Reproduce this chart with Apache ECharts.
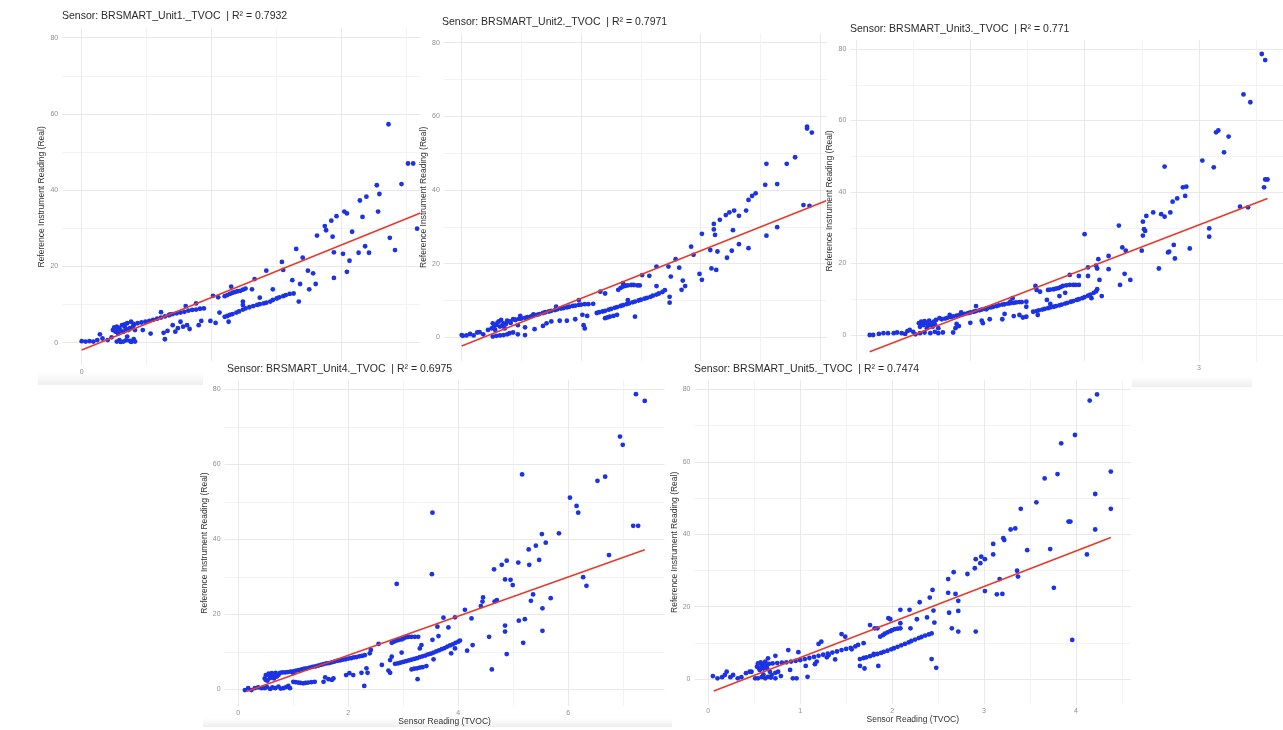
<!DOCTYPE html>
<html><head><meta charset="utf-8">
<script src="https://cdn.jsdelivr.net/npm/echarts@6/dist/echarts.min.js"></script>
<style>html,body{margin:0;padding:0;background:#fff}#c{width:1283px;height:730px}</style>
</head><body><div id="c"></div>
<script>
// ---------------- DATA ----------------
const sensorNames = ['BRSMART_Unit1._TVOC','BRSMART_Unit2._TVOC','BRSMART_Unit3._TVOC','BRSMART_Unit4._TVOC','BRSMART_Unit5._TVOC'];
const r2Values = ['0.7932','0.7971','0.771','0.6975','0.7474'];
const yTickLabels = [0,20,40,60,80];
const xAxisTitle = 'Sensor Reading (TVOC)';
const yAxisTitle = 'Reference Instrument Reading (Real)';

const unit1Points = [
[0.00,0.4],[0.03,0.3],[0.06,0.4],[0.09,0.3],[0.12,0.7],[0.14,2.2],[0.16,1.1],[0.20,0.7],[0.23,1.4],
[0.27,0.3],[0.29,0.7],[0.32,0.3],[0.35,1.6],[0.37,0.5],[0.40,0.9],[0.41,0.3],[0.30,0.2],[0.34,0.6],[0.38,0.2],
[0.24,3.3],[0.26,2.9],[0.27,4.2],[0.28,2.4],[0.29,3.8],[0.31,4.6],[0.32,2.9],[0.33,4.2],[0.35,5.1],[0.36,3.3],[0.37,3.8],[0.38,5.5],[0.40,4.6],[0.41,3.3],[0.25,4.0],[0.30,3.1],[0.34,3.6],[0.39,4.0],[0.28,3.5],[0.33,4.8],
[0.40,4.9],[0.43,5.1],[0.46,5.3],[0.49,5.5],[0.52,5.7],[0.55,6.0],[0.58,6.3],[0.61,6.6],[0.64,6.9],[0.67,7.2],[0.70,7.5],[0.73,7.7],[0.76,7.9],[0.79,8.1],[0.82,8.4],[0.85,8.6],[0.88,8.7],[0.91,8.9],[0.94,9.0],
[0.47,3.3],[0.53,2.4],[0.61,8.0],[0.63,2.6],[0.64,0.9],[0.66,3.1],[0.68,7.4],[0.70,4.6],[0.72,2.9],[0.74,3.8],[0.76,5.5],[0.78,4.2],[0.80,9.6],[0.81,4.6],[0.83,3.6],[0.88,10.3],[0.90,4.6],[0.92,5.7],[0.99,5.7],[1.01,12.3],[1.03,5.2],[1.05,11.9],[1.06,7.9],[1.13,5.5],[1.15,14.7],[1.24,10.8],[1.24,9.9],[1.31,14.0],[1.33,16.7],[1.37,11.8],[1.42,18.9],[1.47,14.0],[1.54,21.2],[1.55,19.1],[1.62,16.4],[1.65,24.6],[1.67,10.8],[1.68,15.4],[1.70,22.3],[1.74,18.9],[1.78,18.2],[1.75,14.0],[1.80,15.4],[1.81,28.1],[1.87,30.6],[1.88,29.5],[1.92,32.0],[1.93,27.8],[1.94,23.7],[1.94,17.0],[1.96,33.2],[2.01,23.3],[2.02,34.4],[2.04,33.9],[2.04,18.6],[2.06,21.5],[2.08,29.1],[2.13,23.6],[2.14,37.3],[2.16,33.0],[2.18,25.3],[2.19,38.3],[2.21,23.6],[2.27,41.3],[2.28,34.4],[2.29,39.0],[2.36,57.3],[2.37,27.5],[2.41,24.3],[2.46,41.6],[2.51,47.0],[2.55,47.0],[2.58,29.9],
[1.10,6.8],[1.12,7.0],[1.14,7.3],[1.16,7.5],[1.19,7.9],[1.21,8.2],[1.24,8.7],[1.26,9.0],[1.29,9.3],[1.32,9.6],[1.35,9.9],[1.37,10.1],[1.40,10.3],[1.42,10.5],[1.45,10.8],[1.47,11.2],[1.50,11.6],[1.52,11.9],[1.55,12.2],[1.57,12.5],[1.60,12.8],[1.63,12.9],
[1.10,12.2],[1.12,12.5],[1.14,12.8],[1.16,13.1],[1.18,13.3],[1.20,13.5],[1.22,13.6],[1.24,13.9],[1.26,14.2]
];
const unit1Fit = [[0,-1.9],[2.62,34.2]];

const unit2Points = [
[0,0.6],[0.01,0.4],[0.04,0.5],[0.07,0.9],[0.10,0.5],[0.13,1.3],[0.15,1.4],[0.18,0.8],[0.22,2.0],
[0.25,2.4],[0.26,3.8],[0.28,2.0],[0.29,3.3],[0.31,4.3],[0.32,2.9],[0.33,4.7],[0.35,3.8],[0.36,2.4],[0.38,4.5],[0.40,4.3],[0.43,4.9],[0.45,4.7],[0.27,3.0],[0.30,4.0],[0.34,3.2],[0.37,3.6],[0.41,3.9],
[0.26,0.2],[0.29,0.4],[0.32,0.5],[0.35,0.6],[0.38,0.8],[0.40,1.1],[0.43,1.3],[0.47,0.8],[0.53,0.6],
[0.45,4.8],[0.48,5.0],[0.50,5.1],[0.53,5.3],[0.55,5.5],[0.58,5.7],[0.60,5.9],[0.63,6.1],[0.65,6.3],[0.68,6.6],[0.70,6.8],[0.73,7.0],[0.75,7.2],[0.78,7.4],[0.80,7.6],[0.83,7.8],[0.85,7.9],[0.88,8.1],[0.90,8.3],[0.93,8.5],[0.95,8.6],[0.98,8.8],[1.00,8.9],[1.03,9.0],[1.06,9.0],[1.10,9.1],
[0.47,3.3],[0.49,5.8],[0.53,2.7],[0.60,6.2],[0.61,2.2],[0.68,3.1],[0.71,3.8],[0.75,4.3],[0.79,8.3],[0.82,4.5],[0.88,4.5],[0.95,4.9],[0.98,10.1],[1.01,6.1],[1.02,3.3],[1.03,2.4],[1.05,5.8],[1.16,12.4],[1.20,11.9],[1.45,5.6],[1.39,10.1],[1.51,16.9],[1.57,16.7],[1.63,19.2],[1.63,13.9],[1.73,19.2],[1.74,11.0],[1.74,9.4],[1.75,16.5],[1.79,21.2],[1.82,18.9],[1.84,12.9],[1.85,15.4],[1.87,13.9],[1.92,24.6],[1.94,22.4],[1.99,17.2],[2.01,28.1],[2.01,15.6],[2.08,23.7],[2.09,18.7],[2.11,30.8],[2.11,29.3],[2.12,27.8],[2.13,18.3],[2.14,23.3],[2.16,31.9],[2.21,33.2],[2.22,21.6],[2.24,33.9],[2.27,29.1],[2.28,34.4],[2.26,23.5],[2.32,33.0],[2.32,25.3],[2.38,34.4],[2.40,24.2],[2.40,37.3],[2.43,38.4],[2.46,39.1],[2.54,41.4],[2.55,47.1],[2.55,27.6],[2.64,41.6],[2.64,29.9],[2.72,47.1],[2.79,48.9],[2.86,35.9],[2.89,57.2],[2.89,56.7],[2.91,35.7],[2.93,55.6],
[1.13,6.6],[1.15,6.8],[1.18,7.0],[1.20,7.2],[1.23,7.5],[1.25,7.7],[1.28,8.0],[1.30,8.2],[1.33,8.5],[1.35,8.7],[1.38,9.0],[1.40,9.2],[1.43,9.5],[1.45,9.7],[1.48,10.0],[1.50,10.2],[1.53,10.5],[1.55,10.7],[1.58,11.0],[1.60,11.3],[1.63,11.6],[1.65,11.9],[1.68,12.3],[1.70,12.8],
[1.20,5.2],[1.22,5.4],[1.24,5.6],[1.27,5.8],[1.30,6.1],
[1.31,12.9],[1.33,13.4],[1.35,13.8],[1.37,14.0],[1.39,14.1],[1.42,14.2],[1.44,14.2],[1.47,14.1],[1.49,14.1],[1.35,14.7]
];
const unit2Fit = [[0,-2.35],[3.05,37.1]];

const unit3Points = [
[0.12,0],[0.15,0],[0.20,0.3],[0.24,0.5],[0.28,0.5],[0.33,0.5],[0.36,0.7],[0.40,0.5],[0.43,0.3],[0.45,1.1],[0.47,1.4],[0.50,0.9],[0.52,0.2],
[0.55,3.3],[0.56,2.3],[0.57,3.7],[0.59,2.8],[0.61,3.4],[0.62,1.9],[0.64,4.0],[0.66,2.8],[0.68,3.7],[0.70,4.2],[0.72,1.9],[0.73,4.7],[0.58,3.0],[0.60,3.9],[0.63,2.6],[0.65,3.3],[0.67,2.3],[0.69,3.0],
[0.56,0.5],[0.60,0.7],[0.65,0.5],[0.69,0.9],[0.72,0.5],[0.76,0.7],
[0.75,4.4],[0.78,4.6],[0.80,4.8],[0.83,5.0],[0.85,5.2],[0.88,5.4],[0.90,5.5],[0.93,5.7],[0.95,5.9],[0.98,6.1],[1.00,6.3],[1.03,6.5],[1.05,6.7],[1.08,6.9],[1.10,7.1],[1.13,7.3],[1.15,7.5],[1.18,7.7],[1.20,7.9],[1.23,8.1],[1.25,8.3],[1.28,8.5],[1.30,8.6],[1.33,8.8],[1.35,8.9],[1.38,9.0],[1.40,9.1],[1.43,9.2],[1.45,9.2],[1.49,9.3],
[0.82,5.6],[0.85,0.7],[0.87,1.9],[0.88,3.1],[0.90,2.5],[0.92,6.3],[1.00,3.4],[1.05,8.1],[1.10,4.0],[1.11,3.3],[1.14,7.2],[1.17,4.4],[1.28,4.4],[1.30,5.9],[1.35,9.3],[1.37,10.3],[1.38,5.3],[1.43,5.6],[1.46,4.9],[1.49,5.1],[1.49,7.9],[1.59,5.6],[1.67,9.8],[1.70,8.7],[1.78,10.9],[1.83,11.8],[1.87,16.8],[1.95,16.5],[2.00,28.2],[2.03,18.9],[2.03,16.5],[2.06,10.3],[2.10,19.4],[2.11,18.6],[2.12,21.2],[2.13,15.4],[2.15,10.9],[2.21,22.1],[2.21,18.4],[2.30,30.6],[2.31,14.0],[2.33,24.5],[2.35,17.1],[2.36,23.6],[2.40,15.4],[2.50,23.6],[2.51,31.7],[2.51,27.8],[2.52,29.6],[2.53,29.1],[2.54,33.3],[2.60,34.3],[2.65,18.6],[2.67,33.8],[2.70,47.1],[2.70,33.1],[2.73,23.1],[2.74,23.3],[2.75,34.3],[2.77,37.3],[2.78,25.2],[2.79,21.4],[2.81,38.2],[2.86,41.3],[2.89,41.5],[2.88,38.9],[2.92,24.2],[3.03,48.8],[3.09,29.8],[3.09,27.5],[3.13,46.9],[3.15,56.7],[3.17,57.2],[3.22,51.1],[3.26,55.5],[3.36,35.9],[3.39,67.3],[3.43,35.7],[3.45,65.1],[3.55,78.6],[3.57,41.3],[3.58,43.5],[3.58,76.9],[3.60,43.5],
[1.55,6.5],[1.58,6.7],[1.60,6.9],[1.63,7.1],[1.65,7.3],[1.68,7.5],[1.70,7.7],[1.73,7.9],[1.75,8.1],[1.78,8.3],[1.80,8.5],[1.83,8.8],[1.85,9.0],[1.88,9.3],[1.90,9.5],[1.93,9.8],[1.95,10.0],[1.98,10.3],[2.00,10.6],[2.03,11.0],[2.05,11.3],[2.08,11.8],[2.10,12.2],[2.11,12.8],
[1.57,13.7],[1.58,12.6],[1.61,12.1],[1.68,12.6],[1.70,12.7],[1.73,12.8],[1.75,13.0],[1.77,13.1],[1.79,13.4],[1.81,13.7],[1.84,13.9],[1.87,14.0],[1.90,14.0],[1.92,14.0],[1.95,14.0]
];
const unit3Fit = [[0.12,-4.7],[3.60,38.2]];

const unit4Points = [
[0.12,-0.2],[0.18,0.3],[0.24,-0.2],[0.30,0.3],[0.36,0.5],[0.42,0.3],
[0.48,2.9],[0.50,3.8],[0.53,2.3],[0.56,3.6],[0.61,4.3],[0.65,2.9],[0.68,4.4],[0.73,3.8],[0.76,4.4],[0.50,2.5],[0.55,4.2],[0.58,3.0],[0.63,3.7],[0.70,3.4],
[0.48,0.3],[0.58,0.1],[0.67,0.3],[0.73,0.7],[0.82,0.3],[0.91,0.9],[0.94,0.3],[0.52,0.6],[0.62,0.5],[0.77,0.2],[0.87,0.6],
[0.80,4.5],[0.85,4.5],[0.90,4.6],[0.95,4.7],[1.00,4.8],[1.05,5.0],[1.10,5.1],[1.15,5.3],[1.20,5.5],[1.25,5.6],[1.30,5.8],[1.35,6.0],[1.40,6.1],[1.45,6.3],[1.50,6.5],[1.55,6.7],[1.60,6.9],[1.65,7.0],[1.70,7.2],[1.75,7.4],[1.80,7.6],[1.85,7.7],[1.90,7.9],[1.95,8.0],[2.00,8.2],[2.05,8.3],[2.10,8.5],[2.15,8.6],[2.20,8.8],[2.25,8.9],[2.30,9.1],
[1.00,2.0],[1.04,1.9],[1.09,1.8],[1.13,1.7],[1.18,1.6],[1.22,1.7],[1.27,1.8],[1.33,1.9],[1.39,2.0],
[1.00,4.3],[1.55,2.0],[1.58,3.2],[1.64,2.7],[1.70,2.5],[1.73,2.9],[1.96,3.8],[2.02,4.3],[2.09,3.8],[2.24,4.4],[2.29,0.9],[2.33,5.6],[2.35,4.4],[2.39,9.6],[2.41,10.5],[2.55,12.1],[2.61,6.5],[2.73,5.0],[2.76,4.4],[2.76,7.8],[2.79,8.7],[2.88,28.1],[2.97,9.8],[3.26,2.7],[3.30,10.9],[3.33,11.8],[3.52,30.7],[3.53,47.1],[3.53,13.2],[3.55,8.0],[3.62,16.7],[3.64,14.2],[3.73,19.1],[3.82,16.5],[3.87,9.6],[3.94,19.2],[3.94,10.9],[4.12,21.2],[4.16,10.3],[4.24,18.9],[4.26,11.8],[4.41,22.2],[4.44,23.4],[4.45,24.5],[4.56,14.0],[4.61,5.3],[4.65,32.0],[4.66,23.4],[4.70,23.8],[4.79,33.2],[4.85,29.3],[4.85,15.4],[4.85,17.0],[4.88,34.3],[4.88,9.4],[4.95,29.2],[4.99,27.8],[5.09,33.8],[5.10,18.3],[5.16,57.3],[5.18,12.4],[5.21,18.7],[5.28,37.3],[5.29,33.2],[5.32,23.6],[5.36,25.3],[5.41,38.3],[5.47,34.5],[5.52,41.4],[5.53,21.6],[5.53,15.6],[5.59,39.1],[5.68,24.3],[5.83,41.6],[6.03,51.1],[6.15,48.9],[6.18,47.1],[6.27,29.9],[6.33,27.6],[6.53,55.6],[6.67,56.7],[6.74,35.8],[6.94,67.4],[6.99,65.2],[7.18,43.6],[7.23,78.7],[7.27,43.6],[7.39,76.9],
[2.85,6.8],[2.90,6.9],[2.95,7.1],[3.00,7.3],[3.05,7.5],[3.10,7.7],[3.15,7.9],[3.20,8.1],[3.25,8.3],[3.30,8.6],[3.35,8.8],[3.40,9.0],[3.45,9.3],[3.50,9.5],[3.55,9.8],[3.60,10.1],[3.65,10.4],[3.70,10.7],[3.75,11.0],[3.80,11.4],[3.85,11.7],[3.90,12.0],[3.95,12.4],[4.00,12.7],[4.03,13.0],
[2.79,12.4],[2.83,12.7],[2.88,13.0],[2.92,13.2],[2.97,13.3],[3.01,13.6],[3.06,13.9],[3.10,14.0],[3.15,14.0],[3.21,14.0],[3.27,14.0],
[3.15,5.3],[3.20,5.5],[3.25,5.6],[3.30,5.8],[3.35,5.9],[3.42,6.2]
];
const unit4Fit = [[0.15,-0.6],[7.39,37.2]];

const unit5Points = [
[0.05,0.8],[0.10,0.2],[0.15,0.5],[0.18,1.1],[0.20,2.0],[0.24,0.5],[0.27,1.1],[0.32,0.2],[0.36,0.5],[0.41,1.6],[0.45,2.0],[0.47,2.0],[0.51,0.2],
[0.53,3.4],[0.54,4.3],[0.56,2.5],[0.58,3.9],[0.60,2.9],[0.62,4.8],[0.63,3.6],[0.65,5.7],[0.67,2.0],[0.55,3.0],[0.57,4.6],[0.59,3.3],[0.61,4.1],[0.64,3.0],[0.66,4.2],
[0.54,0.2],[0.58,0.5],[0.62,0.2],[0.65,0.6],[0.69,1.1],[0.73,1.7],[0.76,2.0],[0.79,0.8],[0.73,0.2],[0.60,1.2],[0.68,0.4],
[0.70,4.3],[0.75,4.4],[0.80,4.5],[0.85,4.6],[0.90,4.8],[0.95,5.0],[1.00,5.2],[1.05,5.5],[1.10,5.8],[1.15,6.1],[1.20,6.4],[1.25,6.7],[1.30,7.0],[1.35,7.3],[1.40,7.6],[1.45,8.0],[1.50,8.3],[1.55,8.6],[1.60,9.0],
[0.73,6.4],[0.87,8.0],[0.89,2.5],[0.92,0.2],[0.96,0.2],[0.98,7.4],[1.06,3.6],[1.08,0.6],[1.16,4.1],[1.18,4.8],[1.20,9.7],[1.23,10.3],[1.29,6.0],[1.31,6.6],[1.38,5.4],[1.45,12.4],[1.49,11.7],[1.56,8.2],[1.63,9.4],[1.65,3.6],[1.70,2.9],[1.69,9.9],[1.76,14.9],[1.85,3.6],[1.80,6.9],[1.81,14.0],[1.84,14.0],[1.96,16.8],[1.98,16.5],[2.09,19.1],[2.09,15.4],[2.19,19.1],[2.20,14.0],[2.27,16.5],[2.30,21.2],[2.38,17.0],[2.41,22.5],[2.43,5.5],[2.44,24.6],[2.45,18.9],[2.46,15.6],[2.48,3.1],[2.61,27.6],[2.61,23.8],[2.62,18.3],[2.65,14.0],[2.67,29.5],[2.69,23.5],[2.72,21.6],[2.72,18.8],[2.72,13.1],[2.82,29.0],[2.90,30.6],[2.91,33.1],[2.91,13.1],[2.96,32.0],[2.97,33.8],[3.01,33.1],[3.01,24.3],[3.10,37.3],[3.10,34.4],[3.14,23.4],[3.17,27.6],[3.20,23.5],[3.21,38.9],[3.22,38.4],[3.29,41.3],[3.34,41.6],[3.36,29.9],[3.37,28.3],[3.40,47.0],[3.47,35.6],[3.57,48.8],[3.66,55.4],[3.72,35.9],[3.76,25.2],[3.80,56.6],[3.84,65.1],[3.92,43.5],[3.94,43.5],[3.96,10.8],[3.99,67.4],[4.12,34.4],[4.15,76.9],[4.21,51.1],[4.21,41.3],[4.23,78.6],[4.38,57.3],[4.38,47.0],
[1.65,5.5],[1.69,5.8],[1.72,6.0],[1.76,6.3],[1.80,6.6],[1.84,6.9],[1.88,7.2],[1.91,7.5],[1.95,7.8],[1.99,8.2],[2.02,8.5],[2.06,8.9],[2.10,9.3],[2.14,9.7],[2.18,10.1],[2.21,10.5],[2.25,10.9],[2.29,11.3],[2.32,11.6],[2.36,12.0],[2.40,12.3],[2.43,12.6],
[1.87,11.7],[1.90,12.1],[1.92,12.5],[1.95,12.9],[1.98,13.2],[2.00,13.5],[2.03,13.8],[2.06,13.9],[2.09,14.0]
];
const unit5Fit = [[0.06,-3.3],[4.38,39.1]];

// ---------------- LAYOUT (pixel placement of each collage panel) ----------------
const layouts = [
  {x0:81.7, px:130,  y0:342.7, py:3.8125, xr:[-0.15,2.75], yr:[-6,82.5],   xMaj:1, xMin:0.5, tl:[62,11],  yGap:14, xName:false, rect:null},
  {x0:461.7,px:119.5,y0:337.3, py:3.6825, xr:[-0.15,3.1],  yr:[-6.5,82.5], xMaj:1, xMin:0.5, tl:[442,17], yGap:14, xName:false, rect:[420,4,408,358]},
  {x0:856,  px:114.3,y0:335,   py:3.575,  xr:[-0.05,3.75], yr:[-7.5,82.5], xMaj:1, xMin:0.5, tl:[850,24], yGap:12, xName:false, rect:[827,4,456,384]},
  {x0:238.3,px:55,   y0:689.3, py:3.75,   xr:[-0.25,7.75], yr:[-4.5,82.5], xMaj:2, xMin:1,   tl:[227,364],yGap:11, xName:true,  rect:[203,361,469,369]},
  {x0:708.3,px:91.9, y0:679,   py:3.62,   xr:[-0.15,4.6],  yr:[-7,82.5],   xMaj:1, xMin:0.5, tl:[694,364],yGap:12, xName:true,  rect:[672,361,460,369]}
];
const pointSets = [unit1Points, unit2Points, unit3Points, unit4Points, unit5Points];
const fitSets = [unit1Fit, unit2Fit, unit3Fit, unit4Fit, unit5Fit];

const FONT = '"Liberation Sans", Arial, sans-serif';
const MAJOR = '#e9e9e9', MINOR = '#f3f3f3', NONE = 'rgba(0,0,0,0)';
const X_STEP = 0.05, Y_STEP = 0.5;
const isMult = (v, s) => Math.abs(v / s - Math.round(v / s)) < 1e-6;
function lineColors(min, max, step, maj, mnr) {
  const n = Math.round((max - min) / step) + 1, out = [];
  for (let k = 0; k < n; k++) {
    const v = min + k * step;
    out.push(isMult(v, maj) ? MAJOR : (isMult(v, mnr) ? MINOR : NONE));
  }
  out.push(NONE);
  return out;
}

const grids = [], xAxes = [], yAxes = [], series = [], titles = [], graphics = [];
layouts.forEach((L, i) => {
  const base = i * 10;
  grids.push({
    left: L.x0 + L.xr[0] * L.px, width: (L.xr[1] - L.xr[0]) * L.px,
    top: L.y0 - L.yr[1] * L.py, height: (L.yr[1] - L.yr[0]) * L.py,
    containLabel: false, outerBoundsMode: 'none', show: false, z: base + 1
  });
  xAxes.push({
    type: 'value', gridIndex: i, min: L.xr[0], max: L.xr[1], interval: X_STEP, z: base + 1,
    axisLine: {show: false}, axisTick: {show: false},
    axisLabel: {fontSize: 7, color: '#8f8f8f', margin: 3, fontFamily: FONT,
      formatter: v => isMult(v, L.xMaj) ? String(Math.round(v)) : ''},
    splitLine: {show: true, lineStyle: {color: lineColors(L.xr[0], L.xr[1], X_STEP, L.xMaj, L.xMin), width: 1}},
    name: L.xName ? xAxisTitle : '', nameLocation: 'middle', nameGap: 11,
    nameTextStyle: {fontSize: 8.5, color: '#333', fontFamily: FONT}
  });
  yAxes.push({
    type: 'value', gridIndex: i, min: L.yr[0], max: L.yr[1], interval: Y_STEP, z: base + 1,
    axisLine: {show: false}, axisTick: {show: false},
    axisLabel: {fontSize: 7, color: '#8f8f8f', margin: 4, fontFamily: FONT,
      formatter: v => (isMult(v, 20) && yTickLabels.indexOf(Math.round(v)) >= 0) ? String(Math.round(v)) : ''},
    splitLine: {show: true, lineStyle: {color: lineColors(L.yr[0], L.yr[1], Y_STEP, 20, 10), width: 1}},
    name: yAxisTitle, nameLocation: 'middle', nameRotate: 90, nameGap: L.yGap,
    nameTextStyle: {fontSize: 8.5, color: '#333', fontFamily: FONT}
  });
  series.push({
    type: 'scatter', xAxisIndex: i, yAxisIndex: i, data: pointSets[i], z: base + 2,
    symbolSize: 4.8, itemStyle: {color: '#1c33e4', opacity: 1}, silent: true
  });
  series.push({
    type: 'line', xAxisIndex: i, yAxisIndex: i, data: fitSets[i], z: base + 3,
    showSymbol: false, symbol: 'none', lineStyle: {color: '#e53b2c', width: 1.6}, silent: true
  });
  titles.push({
    text: 'Sensor: ' + sensorNames[i] + '  | R\u00B2 = ' + r2Values[i],
    left: L.tl[0], top: L.tl[1], padding: 0, z: base + 4,
    textStyle: {fontSize: 10.5, fontWeight: 'normal', color: '#2a2a2a', fontFamily: FONT}
  });
  if (L.rect) {
    graphics.push({type: 'rect', z: base, silent: true,
      shape: {x: L.rect[0], y: L.rect[1], width: L.rect[2], height: L.rect[3]},
      style: {fill: '#ffffff'}});
  }
});
// faint screenshot shading at the lower edges of some panels
const shade = (x, y, w, h, z) => ({type: 'rect', z: z, silent: true, shape: {x: x, y: y, width: w, height: h},
  style: {fill: new echarts.graphic.LinearGradient(0, 0, 0, 1, [{offset: 0, color: 'rgba(240,240,240,0)'}, {offset: 1, color: 'rgba(238,238,238,1)'}])}});
graphics.push(shade(38, 372, 165, 13, 0));
graphics.push(shade(1132, 376, 120, 11, 20.5));
graphics.push(shade(203, 718, 929, 9, 30.5));

const chart = echarts.init(document.getElementById('c'), null, {renderer: 'canvas'});
chart.setOption({
  backgroundColor: '#ffffff', animation: false,
  title: titles, grid: grids, xAxis: xAxes, yAxis: yAxes, series: series,
  graphic: {elements: graphics}
});
</script></body></html>
